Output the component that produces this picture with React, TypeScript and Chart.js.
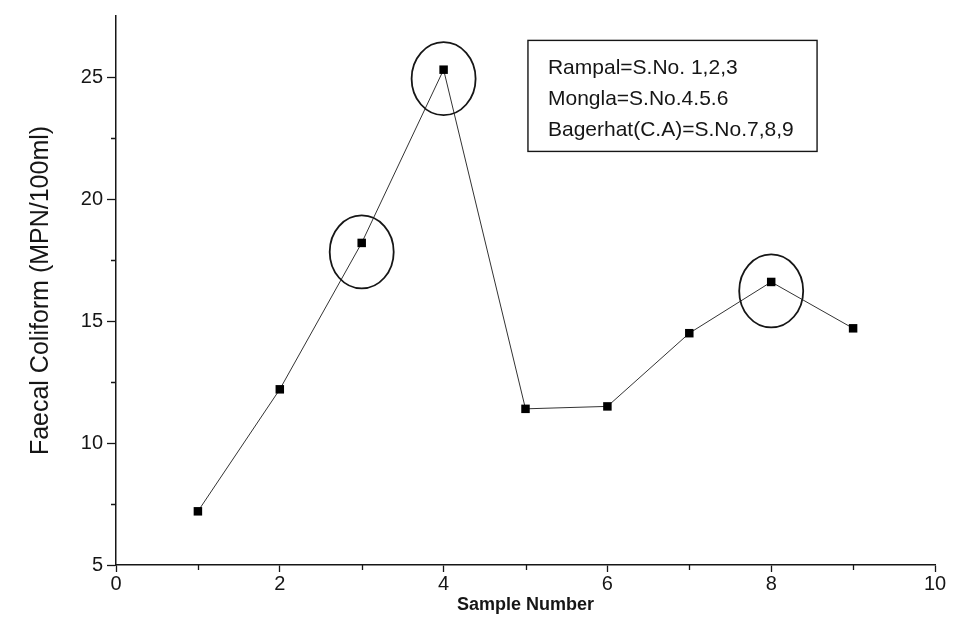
import React, { useEffect, useRef } from "react";
import { Chart, registerables } from "chart.js";

Chart.register(...registerables);

// ---- Data ----
const sampleNumbers = [1, 2, 3, 4, 5, 6, 7, 8, 9];
const faecalColiform = [7.2, 12.2, 18.2, 25.3, 11.4, 11.5, 14.5, 16.6, 14.7];
const circledSamples = [3, 4, 8];
const legendLines = [
  "Rampal=S.No. 1,2,3",
  "Mongla=S.No.4.5.6",
  "Bagerhat(C.A)=S.No.7,8,9",
];
const xTickLabels = [0, 2, 4, 6, 8, 10];
const xMinorTicks = [1, 3, 5, 7, 9];
const yTickLabels = [5, 10, 15, 20, 25];
const yMinorTicks = [7.5, 12.5, 17.5, 22.5];

const INK = "#161616";
const FONT = '"Liberation Sans", Arial, sans-serif';

const annotationPlugin = {
  id: "annotations",
  afterDraw(chart: any) {
    const { ctx } = chart;
    const x = chart.scales.x;
    const y = chart.scales.y;
    ctx.save();
    // minor ticks
    ctx.strokeStyle = INK;
    ctx.lineWidth = 1.3;
    ctx.beginPath();
    for (const v of xMinorTicks) {
      const px = Math.round(x.getPixelForValue(v)) + 0.5;
      ctx.moveTo(px, x.top);
      ctx.lineTo(px, x.top + 5);
    }
    for (const v of yMinorTicks) {
      const py = Math.round(y.getPixelForValue(v)) + 0.5;
      ctx.moveTo(y.right, py);
      ctx.lineTo(y.right - 5, py);
    }
    ctx.stroke();

    // circles around highlighted samples
    ctx.lineWidth = 1.8;
    for (const s of circledSamples) {
      const i = sampleNumbers.indexOf(s);
      const px = x.getPixelForValue(s);
      const py = y.getPixelForValue(faecalColiform[i]);
      ctx.beginPath();
      ctx.ellipse(px, py + 9, 32, 36.5, 0, 0, Math.PI * 2);
      ctx.stroke();
    }

    // info box
    const left = x.getPixelForValue(5.03);
    const right = x.getPixelForValue(8.56);
    const top = y.getPixelForValue(26.5);
    const bottom = y.getPixelForValue(21.95);
    ctx.lineWidth = 1.4;
    ctx.strokeRect(left, top, right - left, bottom - top);
    ctx.fillStyle = INK;
    ctx.font = `21px ${FONT}`;
    ctx.textAlign = "left";
    ctx.textBaseline = "middle";
    legendLines.forEach((line, k) => {
      ctx.fillText(line, left + 20, top + 28 + k * 31);
    });
    ctx.restore();
  },
};

export default function App() {
  const canvasRef = useRef<HTMLCanvasElement | null>(null);

  useEffect(() => {
    if (!canvasRef.current) return;
    const chart = new Chart(canvasRef.current, {
      type: "line",
      data: {
        datasets: [
          {
            data: sampleNumbers.map((s, i) => ({ x: s, y: faecalColiform[i] })),
            borderColor: "#333",
            borderWidth: 1,
            backgroundColor: "#000",
            pointStyle: "rect",
            pointRadius: 6,
            pointBorderWidth: 0,
            pointBackgroundColor: "#000",
            tension: 0,
            fill: false,
          },
        ],
      },
      options: {
        animation: false,
        responsive: true,
        maintainAspectRatio: false,
        layout: { padding: { top: 16, right: 19, left: 0, bottom: 0 } },
        plugins: {
          legend: { display: false },
          tooltip: { enabled: false },
        },
        scales: {
          x: {
            type: "linear",
            min: 0,
            max: 10,
            afterFit: (scale: any) => {
              scale.height = 54;
            },
            border: { display: true, color: INK, width: 1.5 },
            grid: {
              drawOnChartArea: false,
              drawTicks: true,
              tickLength: 7,
              tickWidth: 1.3,
              tickColor: (c: any) =>
                c.tick && xTickLabels.includes(c.tick.value) ? INK : "rgba(0,0,0,0)",
            },
            ticks: {
              stepSize: 1,
              padding: 0,
              color: INK,
              font: { family: FONT, size: 20 },
              maxRotation: 0,
              autoSkip: false,
              callback: (v: any) => (xTickLabels.includes(Number(v)) ? String(v) : ""),
            },
            title: {
              display: true,
              text: "Sample Number",
              color: INK,
              font: { family: FONT, size: 18, weight: "bold", lineHeight: 1.2 },
              padding: { top: 0, bottom: 3 },
            },
          },
          y: {
            type: "linear",
            min: 5,
            max: 27.5,
            afterFit: (scale: any) => {
              scale.width = 116;
            },
            border: { display: true, color: INK, width: 1.5 },
            grid: {
              drawOnChartArea: false,
              drawTicks: true,
              tickLength: 9,
              tickWidth: 1.3,
              tickColor: (c: any) =>
                c.tick && yTickLabels.includes(c.tick.value) ? INK : "rgba(0,0,0,0)",
            },
            ticks: {
              stepSize: 2.5,
              padding: 4,
              color: INK,
              font: { family: FONT, size: 20 },
              autoSkip: false,
              callback: (v: any) => (yTickLabels.includes(Number(v)) ? String(v) : ""),
            },
            title: {
              display: true,
              text: "Faecal Coliform (MPN/100ml)",
              color: INK,
              font: { family: FONT, size: 25, lineHeight: 1.2 },
              padding: { top: 26, bottom: 0 },
            },
          },
        },
      },
      plugins: [annotationPlugin],
    });
    return () => chart.destroy();
  }, []);

  return (
    <div
      style={{
        position: "fixed",
        left: 0,
        top: 0,
        width: 954,
        height: 619,
        background: "#fff",
      }}
    >
      <canvas ref={canvasRef} />
    </div>
  );
}
